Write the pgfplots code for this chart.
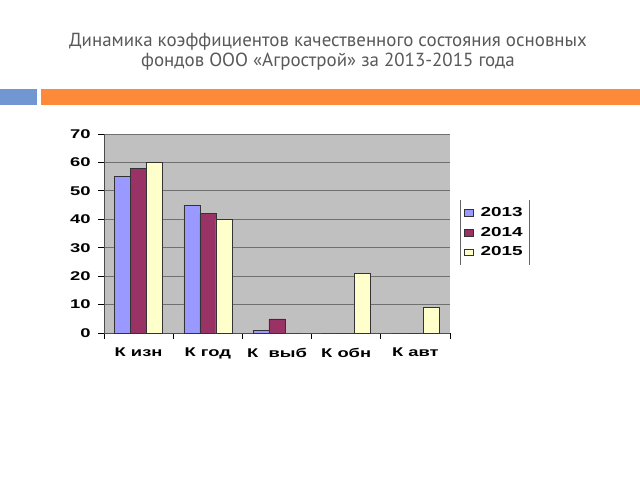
\documentclass[border=0pt]{standalone}
\usepackage{pgfplots}
\pgfplotsset{compat=1.18}
\usepackage{fontspec}
\setmainfont{PT Sans}
\newfontfamily\tickfont[FakeStretch=1.45]{Liberation Sans}
\definecolor{c13}{HTML}{9999FF}
\definecolor{c14}{HTML}{993366}
\definecolor{c15}{HTML}{FFFFCC}
\definecolor{bg}{HTML}{C0C0C0}
\definecolor{titlegray}{HTML}{595959}
\definecolor{bandblue}{HTML}{7097D2}
\definecolor{bandorange}{HTML}{FD8A3A}
\definecolor{gridc}{HTML}{707070}
\pgfplotsset{sqlegend/.style={legend image code/.code={\draw[##1, line width=0.3pt] (1pt,-2.5pt) rectangle (7.3pt,2.5pt); \path[draw=none,fill=none] (11pt,0pt);}}}
\begin{document}
\begin{tikzpicture}[x=0.75pt,y=0.75pt]
\useasboundingbox (0,0) rectangle (640,480);
\fill[white] (0,0) rectangle (640,480);
\node[text=titlegray, font=\fontsize{14.2}{15}\selectfont, align=center] at (328,428)
  {Динамика коэффициентов качественного состояния основных\\фондов ООО «Агрострой» за 2013-2015 года};
\fill[bandblue] (0,375) rectangle (37,391);
\fill[bandorange] (41,375) rectangle (640,391);
\begin{axis}[
  at={(78pt,110.25pt)}, anchor=south west,
  scale only axis, width=259.5pt, height=149.25pt,
  xmin=0, xmax=5, ymin=0, ymax=70,
  ybar=0pt, bar width=12pt,
  axis background/.style={fill=bg},
  axis x line*=bottom, axis y line*=left,
  axis line style={draw=black!70, line width=0.6pt},
  ymajorgrids, grid style={gridc, line width=0.6pt},
  ytick={0,10,...,70},
  xtick={0,1,...,5},
  x tick label as interval,
  xticklabels={К изн, К год, К\ \ выб, К обн, К авт},
  tick align=outside, major tick length=4.5pt,
  tick style={black, line width=0.6pt},
  /pgf/number format/assume math mode=true,
  yticklabel style={font=\tickfont\bfseries\fontsize{9.5}{10}\selectfont, xshift=-2pt},
  xticklabel style={font=\tickfont\bfseries\fontsize{9.5}{10}\selectfont, yshift=-3pt},
  legend style={at={(1.029,0.505)}, anchor=west, draw=none, fill=none,
    font=\tickfont\bfseries\fontsize{9.8}{10}\selectfont, row sep=2.5pt,
    inner sep=3pt, name=leg},
  legend cell align=left,
  every axis plot/.append style={draw=black!80, line width=0.4pt},
  every axis plot post/.append style={sqlegend},
]
\addplot[fill=c13]
  coordinates {(0.5,55) (1.5,45) (2.5,1) (3.5,0) (4.5,0)};
\addplot[fill=c14]
  coordinates {(0.5,58) (1.5,42) (2.5,5) (3.5,0) (4.5,0)};
\addplot[fill=c15]
  coordinates {(0.5,60) (1.5,40) (2.5,0) (3.5,21) (4.5,9)};
\legend{2013,2014,2015}
\end{axis}
\draw[black!60, line width=0.5pt] (leg.north west) -- (leg.south west);
\draw[black!60, line width=0.5pt] (leg.north east) -- (leg.south east);
\end{tikzpicture}
\end{document}
